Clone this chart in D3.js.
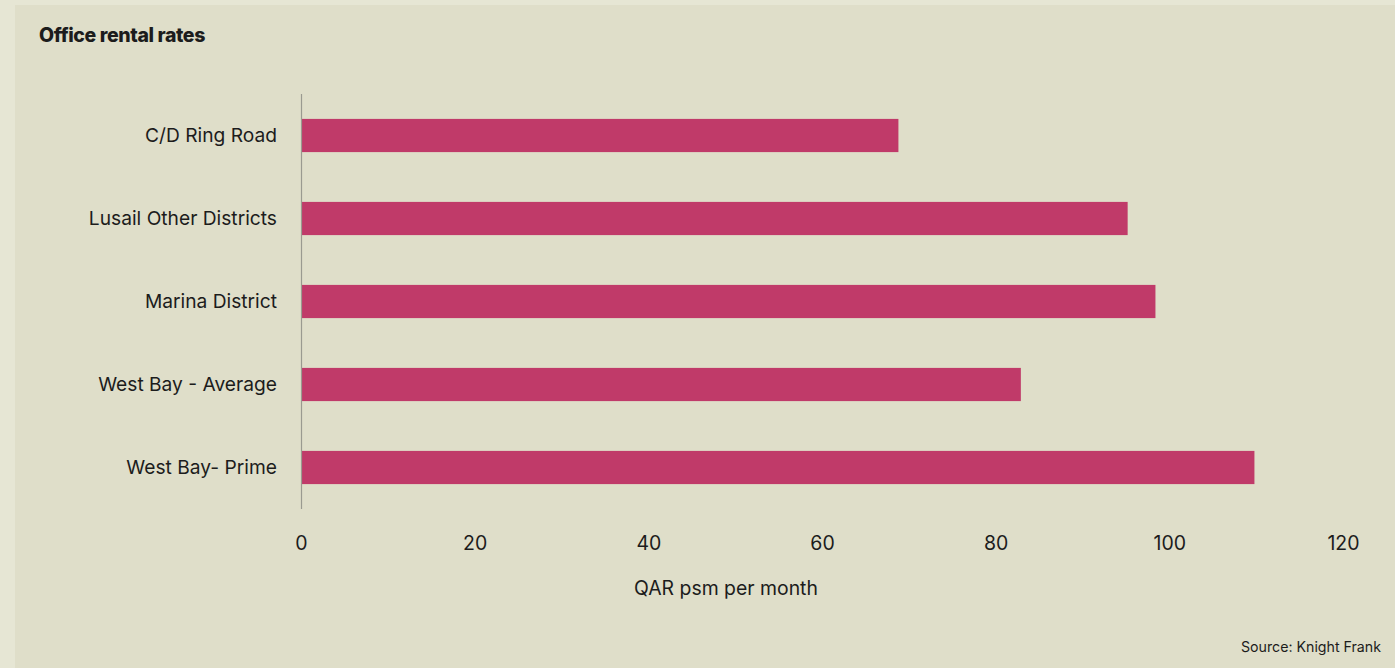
<!DOCTYPE html>
<html>
<head>
<meta charset="utf-8">
<script src="https://cdn.jsdelivr.net/npm/d3@7"></script>
<style>
  html, body { margin: 0; padding: 0; background: #e6e6d4; }
  svg { display: block; }
  text { font-family: Inter, 'Noto Sans', sans-serif; fill: #1c1c1c; }
</style>
</head>
<body>
<script>
const categories = ['C/D Ring Road', 'Lusail Other Districts', 'Marina District', 'West Bay - Average', 'West Bay- Prime']
const values = [68.8, 95.2, 98.4, 82.9, 109.8]
const xTicks = [0, 20, 40, 60, 80, 100, 120]

const width = 1395
const height = 668
const plotLeft = 301
const plotRight = 1343
const plotTop = 94
const plotBottom = 509

const svg = d3.select('body')
	.append('svg')
	.attr('width', width)
	.attr('height', height)

// panel
svg.append('rect')
	.attr('x', 15)
	.attr('y', 5)
	.attr('width', width - 15)
	.attr('height', height - 5)
	.attr('fill', '#dfdec9')

// title
svg.append('text')
	.attr('x', 39)
	.attr('y', 42)
	.style('font-size', '19.5px')
	.style('font-weight', 800)
	.style('letter-spacing', '-0.4px')
	.text('Office rental rates')

const x = d3.scaleLinear()
	.domain([0, 120])
	.range([plotLeft, plotRight])

const y = d3.scaleBand()
	.domain(categories)
	.range([plotTop, plotBottom])
	.paddingInner(0.6)
	.paddingOuter(0.3)

// bars
svg.append('g')
	.selectAll('rect')
	.data(categories)
	.enter()
	.append('rect')
	.attr('x', x(0))
	.attr('y', d => y(d))
	.attr('width', (d, i) => x(values[i]) - x(0))
	.attr('height', y.bandwidth())
	.attr('fill', '#c03a69')

// y axis line + labels
svg.append('line')
	.attr('x1', x(0) + 0.5)
	.attr('x2', x(0) + 0.5)
	.attr('y1', plotTop)
	.attr('y2', plotBottom)
	.attr('stroke', '#9a9a90')
	.attr('stroke-width', 1.2)

svg.append('g')
	.selectAll('text')
	.data(categories)
	.enter()
	.append('text')
	.attr('x', 277)
	.attr('y', d => y(d) + y.bandwidth() / 2)
	.attr('dy', '0.35em')
	.attr('text-anchor', 'end')
	.style('font-size', '19.2px')
	.text(d => d)

// x axis
const xAxis = d3.axisBottom(x)
	.tickValues(xTicks)
	.tickSize(0)
	.tickPadding(0)

const gx = svg.append('g')
	.attr('transform', 'translate(0,536)')
	.call(xAxis)
gx.select('.domain').remove()
gx.selectAll('text')
	.attr('dy', '0.71em')
	.style('font-size', '19.5px')
	.style('font-family', "Inter, 'Noto Sans', sans-serif")
	.attr('fill', '#1c1c1c')

svg.append('text')
	.attr('x', 726)
	.attr('y', 595)
	.attr('text-anchor', 'middle')
	.style('font-size', '19.4px')
	.text('QAR psm per month')

svg.append('text')
	.attr('x', 1381)
	.attr('y', 652)
	.attr('text-anchor', 'end')
	.style('font-size', '14.2px')
	.text('Source: Knight Frank')
</script>
</body>
</html>
